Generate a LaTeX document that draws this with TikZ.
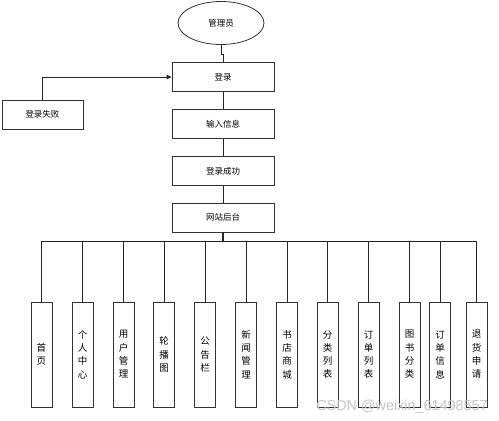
\documentclass[tikz,border=0pt]{standalone}
\usepackage{fontspec}
\newfontfamily\cjk{Noto Sans CJK SC}
\setsansfont{Liberation Sans}
\usetikzlibrary{shapes.geometric,arrows.meta}
\begin{document}
\begin{tikzpicture}[x=1pt,y=-1pt,
 box/.style={draw=black!80,line width=0.8pt,minimum width=102pt,minimum height=29pt,font=\cjk\fontsize{8.5}{10}\selectfont,inner sep=0pt},
 leaf/.style={draw=black!80,line width=0.8pt,minimum width=21pt,minimum height=105pt,font=\cjk\fontsize{9.5}{13.3}\selectfont,align=center,inner sep=0pt},
 conn/.style={draw=black!85,line width=0.8pt}]
\useasboundingbox (0,0) rectangle (499,421);
\fill[white] (0,0) rectangle (499,421);
\node[ellipse,draw=black!80,line width=0.8pt,minimum width=86pt,minimum height=43pt,font=\cjk\fontsize{8.5}{10}\selectfont,inner sep=0pt] (admin) at (221,23) {管理员};
\node[box] (login) at (223,77) {登录};
\node[box] (input) at (223,124) {输入信息};
\node[box] (ok) at (223,171) {登录成功};
\node[box] (site) at (223,217.5) {网站后台};
\node[box,minimum width=81pt] (fail) at (42.5,114.5) {登录失败};
\coordinate (bus) at (223,241);
\foreach \n/\x/\t in {l1/41.5/{首\\页},l2/82.5/{个\\人\\中\\心},l3/123.5/{用\\户\\管\\理},l4/164/{轮\\播\\图},l5/205/{公\\告\\栏},l6/246/{新\\闻\\管\\理},l7/287/{书\\店\\商\\城},l8/327.5/{分\\类\\列\\表},l9/368.5/{订\\单\\列\\表},l10/409.5/{图\\书\\分\\类},l11/440/{订\\单\\信\\息},l12/476.5/{退\\货\\申\\请}}{
  \node[leaf] (\n) at (\x,354.5) {\t};
  \draw[conn] (\n.north) -- (\n.north |- bus);
}
\draw[conn] (admin.south) -- ++(0,9) -| (login.north);
\draw[conn] (login) -- (input);
\draw[conn] (input) -- (ok);
\draw[conn] (ok) -- (site);
\draw[conn,line width=1.1pt] (site.south) -- (bus);
\draw[conn,line width=1pt] (l1.north |- bus) -- (l12.north |- bus);
\draw[conn,-{Triangle[length=5pt,width=4.5pt]}] (fail.north) |- (login.west);
\node[text=gray!45,font=\sffamily\fontsize{14.4}{14.4}\selectfont,anchor=east,inner sep=0pt] (wm) at (488,407) {CSDN @weixin\_61498557};
\end{tikzpicture}
\end{document}
